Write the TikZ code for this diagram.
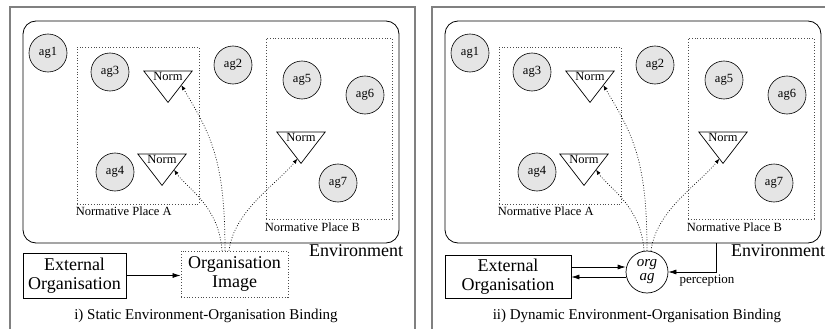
\documentclass[tikz,border=0pt]{standalone}
\usepackage{fontspec}
\setmainfont{Liberation Serif}
\usetikzlibrary{arrows.meta}
\usetikzlibrary{positioning}
\usetikzlibrary{calc}

\tikzset{
  frame/.style={draw=gray, line width=1.2pt},
  env/.style={draw, line width=0.8pt, rounded corners=13pt, inner sep=0},
  place/.style={draw=gray!60!black, dotted, line width=0.8pt, inner sep=0},
  agent/.style={circle, draw, line width=0.6pt, fill=gray!20, minimum size=38pt, inner sep=0, font=\fontsize{12.5}{14}\selectfont},
  norm/.style={inner sep=0, minimum width=48pt, text height=9pt, text depth=22pt, anchor=north, font=\fontsize{12.5}{14}\selectfont},
  placelbl/.style={inner sep=0, font=\fontsize{12.5}{14}\selectfont},
  biglbl/.style={inner sep=0, align=center, font=\fontsize{18}{19}\selectfont},
  caption/.style={inner sep=0, font=\fontsize{15}{17}\selectfont},
  flow/.style={dash pattern=on 0.8pt off 1.8pt, line width=0.7pt, -{Latex[length=5pt,width=4pt]}},
  link/.style={line width=0.7pt, -{Latex[length=8pt,width=5pt]}},
}

\begin{document}
\begin{tikzpicture}[x=1pt, y=-1pt]
  \clip (0,0) rectangle (825,329);

  % static binding: organisation image
  \node[biglbl, draw, line width=0.8pt, minimum width=103pt, minimum height=45pt] (L-ext) at (74.5,275.5) {External\\Organisation};
  \node[biglbl, place, minimum width=107pt, minimum height=46pt] (L-org) at (234.5,274) {Organisation\\Image};
  \draw[link] (L-ext.east) -- (L-ext.east -| L-org.west);
  \coordinate (L-fan) at ([xshift=-9.5pt]L-org.north);

  % dynamic binding: organisational agent
  \node[biglbl, draw, line width=0.8pt, minimum width=126pt, minimum height=43pt] (R-ext) at (508,276.5) {External\\Organisation};
  \node[circle, draw, line width=0.7pt, minimum size=42pt, inner sep=0, align=center, font=\fontsize{15}{14}\selectfont\itshape] (R-org) at (647,272) {org\\ag};
  \coordinate (R-fan) at (R-org.north);
  \coordinate (R-in) at ([yshift=5pt]R-org.west);
  \coordinate (R-out) at ([yshift=-5pt]R-org.west);
  \draw[link] (R-ext.east |- R-in) -- (R-in);
  \draw[link] (R-out) -- (R-ext.east |- R-out);
  \node[placelbl, font=\fontsize{13}{14}\selectfont, below right=3pt and 11pt of R-org.east] (R-perc) {perception};

  \node[caption] (L-cap) at (206,316) {i) Static Environment-Organisation Binding};
  \node[caption] (R-cap) at (637,316) {ii) Dynamic Environment-Organisation Binding};

  \foreach \p/\dx/\sx in {L/0/0, R/422/14} {
    \begin{scope}[xshift=\dx]
      \draw[frame] (10,340) |- (415,7) -- (415,340);
      \node[env, minimum width=376pt, minimum height=222pt] (\p-env) at (211,132) {};
      \node[place, minimum width=122pt, minimum height=157pt] (\p-pa) at (138,125.5) {};
      \node[place, minimum width=126pt, minimum height=181pt] (\p-pb) at (329,128.5) {};
      \node[placelbl, below right=2pt and -1pt of \p-pa.south west] (\p-pala) {Normative Place A};
      \node[placelbl, below right=3pt and -1pt of \p-pb.south west] (\p-pblb) {Normative Place B};
      \node[biglbl, below left=1pt and -4pt of \p-env.south east] (\p-envlb) {Environment};

      \foreach \n/\x/\y in {1/48/53, 2/233/65, 3/110/72, 4/115/172, 5/302/80, 6/365/95}
        \node[agent] (\p-ag\n) at (\x,\y) {ag\n};
      \node[agent] (\p-ag7) at (338+\sx,183) {ag7};

      \node[norm] (\p-n1) at (168,71) {Norm};
      \node[norm] (\p-n2) at (162,154) {Norm};
      \node[norm] (\p-n3) at (301,132) {Norm};
      \foreach \n in {1,2,3}
        \draw[line width=0.7pt] (\p-n\n.north west) -- (\p-n\n.north east) -- (\p-n\n.south) -- cycle;
    \end{scope}

    % norms published into the places
    \draw[flow] ([xshift=-3pt]\p-fan) .. controls +(-3,-45) and +(12,18) .. ($(\p-n2.north east)!0.5!(\p-n2.south)$);
    \draw[flow] (\p-fan) .. controls +(0,-90) and +(30,50) .. ($(\p-n1.north east)!0.45!(\p-n1.south)$);
    \draw[flow] ([xshift=4pt]\p-fan) .. controls +(5,-40) and +(-20,25) .. ($(\p-n3.north west)!0.85!(\p-n3.south)$);
  }

  \draw[link] (R-env.south -| 716,0) |- (R-org.east);
\end{tikzpicture}
\end{document}
